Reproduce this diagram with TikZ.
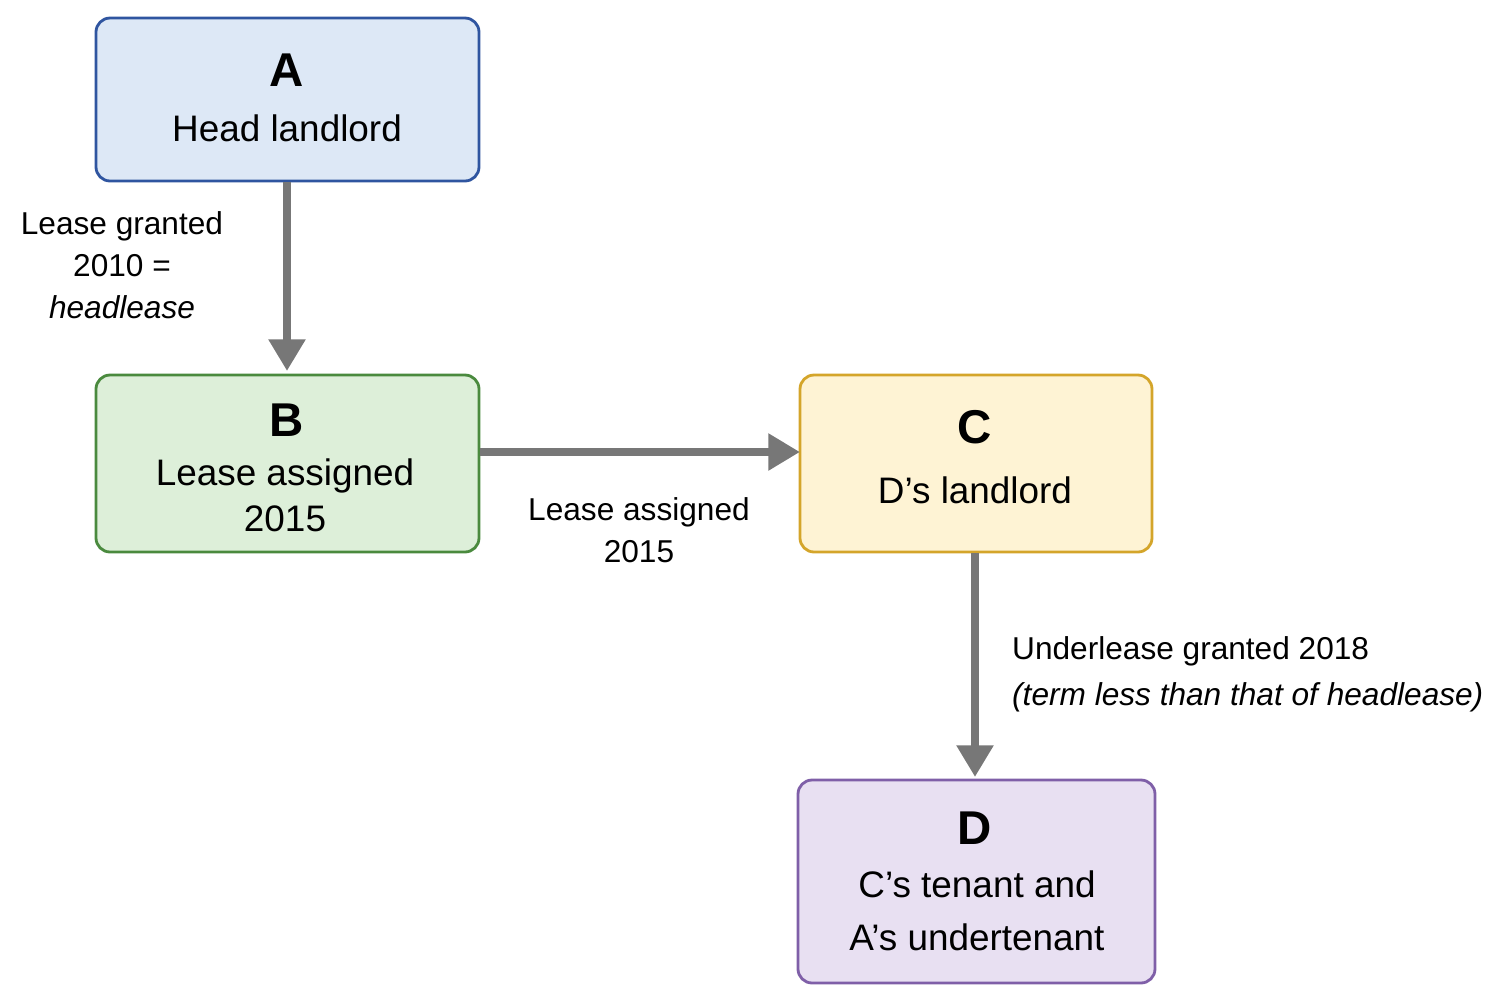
\documentclass[tikz,border=0pt]{standalone}
\usepackage{fontspec}
\setmainfont{Liberation Sans}
\usetikzlibrary{arrows.meta}
\definecolor{afill}{HTML}{DDE8F6}\definecolor{aline}{HTML}{2F55A0}
\definecolor{bfill}{HTML}{DDEFD9}\definecolor{bline}{HTML}{4A8A3E}
\definecolor{cfill}{HTML}{FEF3D4}\definecolor{cline}{HTML}{D4A52A}
\definecolor{dfill}{HTML}{E8E0F2}\definecolor{dline}{HTML}{7F5FA8}
\definecolor{arr}{HTML}{777777}
\tikzset{
 box/.style={draw, line width=1.6pt, rounded corners=8pt, align=center, inner sep=0pt},
 conn/.style={draw=arr, line width=5pt, -{Triangle[length=18pt,width=20pt]}},
 lbl/.style={font=\fontsize{18}{23}\selectfont, align=center},
 big/.style={font=\fontsize{21}{27}\selectfont},
}
\begin{document}
\begin{tikzpicture}[x=0.02cm,y=-0.02cm]
\useasboundingbox (0,0) rectangle (1492,1002);
\node[box, fill=afill, draw=aline, minimum width=383*0.02cm, minimum height=163*0.02cm] (A) at (287.5,99.5) {};
\node[font=\fontsize{27}{30}\bfseries\selectfont] at (287,70) {A};
\node[big] at (287,128) {Head landlord};
\node[box, fill=bfill, draw=bline, minimum width=383*0.02cm, minimum height=177*0.02cm] (B) at (287.5,463.5) {};
\node[font=\fontsize{27}{30}\bfseries\selectfont] at (287,420) {B};
\node[big, align=center, font=\fontsize{21}{26}\selectfont] at (285,495) {Lease assigned\\2015};
\node[box, fill=cfill, draw=cline, minimum width=352*0.02cm, minimum height=177*0.02cm] (C) at (976,463.5) {};
\node[font=\fontsize{27}{30}\bfseries\selectfont] at (975,427) {C};
\node[big] at (975,490) {D’s landlord};
\node[box, fill=dfill, draw=dline, minimum width=357*0.02cm, minimum height=203*0.02cm] (D) at (976.5,881.5) {};
\node[font=\fontsize{27}{30}\bfseries\selectfont] at (975,828) {D};
\node[big, align=center, font=\fontsize{21}{30}\selectfont] at (977,911) {C’s tenant and\\A’s undertenant};
\draw[conn] (A.south -| 287,0) -- (287,371);
\draw[conn] (B.east |- 0,452) -- (800,452);
\draw[conn] (C.south -| 975,0) -- (975,777);
\node[lbl, font=\fontsize{18}{24}\selectfont] at (122,265) {Lease granted\\2010 =\\\textit{headlease}};
\node[lbl, font=\fontsize{18}{24}\selectfont] at (639,530) {Lease assigned\\2015};
\node[lbl, align=left, anchor=west, font=\fontsize{18}{26}\selectfont] at (1006,674) {Underlease granted 2018\\\textit{(term less than that of headlease)}};
\end{tikzpicture}
\end{document}
